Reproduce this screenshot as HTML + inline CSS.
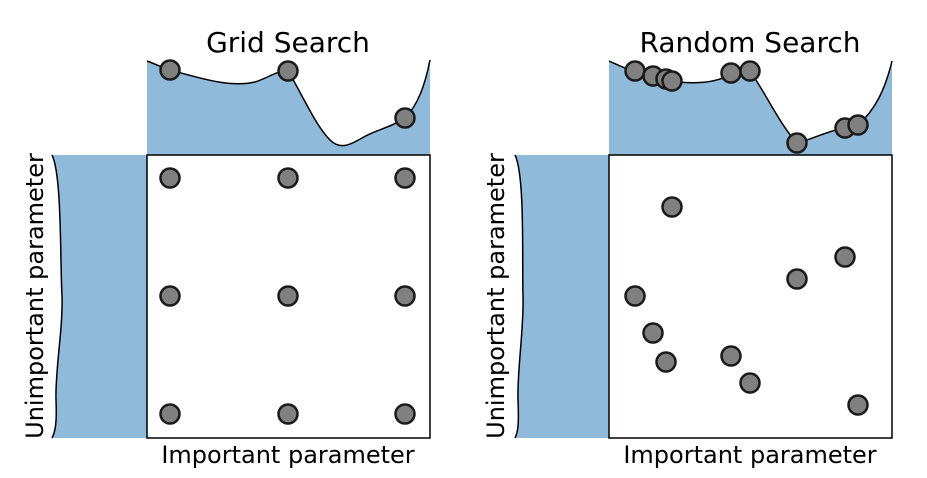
<!DOCTYPE html>
<html><head><meta charset="utf-8"><style>body{margin:0;background:#fff}</style></head><body>
<svg width="927" height="473" viewBox="0 0 927 473" xmlns="http://www.w3.org/2000/svg" font-family="DejaVu Sans, Liberation Sans, sans-serif">
<g>
<path d="M147,61 C158,65 165,69 170,70 C200,78 230,88 255,82 C268,78 278,70 288,71 C300,90 315,125 330,140 C340,150 350,145 362,138 C375,130 390,128 405,118 C418,105 425,85 430,60 L430,155 L147,155 Z" fill="#8fbad9"/>
<path d="M147,61 C158,65 165,69 170,70 C200,78 230,88 255,82 C268,78 278,70 288,71 C300,90 315,125 330,140 C340,150 350,145 362,138 C375,130 390,128 405,118 C418,105 425,85 430,60" fill="none" stroke="#000" stroke-width="1.5"/>
<path d="M52,155 C62,175 60,260 62,296 C63,330 55,370 56,400 C57,425 55,432 52,438 L147,438 L147,155 Z" fill="#8fbad9"/>
<path d="M52,155 C62,175 60,260 62,296 C63,330 55,370 56,400 C57,425 55,432 52,438" fill="none" stroke="#000" stroke-width="1.5"/>
<rect x="147" y="155" width="283" height="283" fill="#fff" stroke="#000" stroke-width="1.5"/>
<g fill="#808080" stroke="#1a1a1a" stroke-width="2.5">
<circle cx="170" cy="70" r="9.5"/><circle cx="288" cy="71" r="9.5"/><circle cx="405" cy="118" r="9.5"/>
<circle cx="170" cy="178" r="9.5"/><circle cx="288" cy="178" r="9.5"/><circle cx="405" cy="178" r="9.5"/>
<circle cx="170" cy="296" r="9.5"/><circle cx="288" cy="296" r="9.5"/><circle cx="405" cy="296" r="9.5"/>
<circle cx="170" cy="414" r="9.5"/><circle cx="288" cy="414" r="9.5"/><circle cx="405" cy="414" r="9.5"/>
</g>
<text x="288" y="52" font-size="28" text-anchor="middle">Grid Search</text>
<text x="288" y="463" font-size="24" text-anchor="middle">Important parameter</text>
<text transform="translate(43,296) rotate(-90)" font-size="24" text-anchor="middle">Unimportant parameter</text>
</g>
<g>
<path d="M609,61 C620,66 628,70 634,71 C645,74 660,79 672,81 C690,84 715,84 731,74 C738,71 745,70 750,71 C765,92 780,125 797,143 C810,140 830,130 845,128 C852,126 856,125 858,125 C875,110 885,90 892,61 L892,155 L609,155 Z" fill="#8fbad9"/>
<path d="M609,61 C620,66 628,70 634,71 C645,74 660,79 672,81 C690,84 715,84 731,74 C738,71 745,70 750,71 C765,92 780,125 797,143 C810,140 830,130 845,128 C852,126 856,125 858,125 C875,110 885,90 892,61" fill="none" stroke="#000" stroke-width="1.5"/>
<path d="M515,155 C525,175 522,260 523,296 C524,330 517,370 518,400 C519,425 518,432 515,438 L609,438 L609,155 Z" fill="#8fbad9"/>
<path d="M515,155 C525,175 522,260 523,296 C524,330 517,370 518,400 C519,425 518,432 515,438" fill="none" stroke="#000" stroke-width="1.5"/>
<rect x="609" y="155" width="283" height="283" fill="#fff" stroke="#000" stroke-width="1.5"/>
<g fill="#808080" stroke="#1a1a1a" stroke-width="2.5">
<circle cx="635" cy="71" r="9.5"/><circle cx="653" cy="76" r="9.5"/><circle cx="666" cy="79" r="9.5"/><circle cx="672" cy="81" r="9.5"/>
<circle cx="731" cy="73" r="9.5"/><circle cx="750" cy="71" r="9.5"/><circle cx="797" cy="143" r="9.5"/><circle cx="845" cy="128" r="9.5"/><circle cx="858" cy="125" r="9.5"/>
<circle cx="672" cy="207" r="9.5"/><circle cx="635" cy="296" r="9.5"/><circle cx="653" cy="333" r="9.5"/><circle cx="666" cy="362" r="9.5"/>
<circle cx="731" cy="356" r="9.5"/><circle cx="750" cy="383" r="9.5"/><circle cx="797" cy="279" r="9.5"/><circle cx="845" cy="257" r="9.5"/><circle cx="858" cy="405" r="9.5"/>
</g>
<text x="750" y="52" font-size="28" text-anchor="middle">Random Search</text>
<text x="750" y="463" font-size="24" text-anchor="middle">Important parameter</text>
<text transform="translate(504,296) rotate(-90)" font-size="24" text-anchor="middle">Unimportant parameter</text>
</g>
</svg>
</body></html>
